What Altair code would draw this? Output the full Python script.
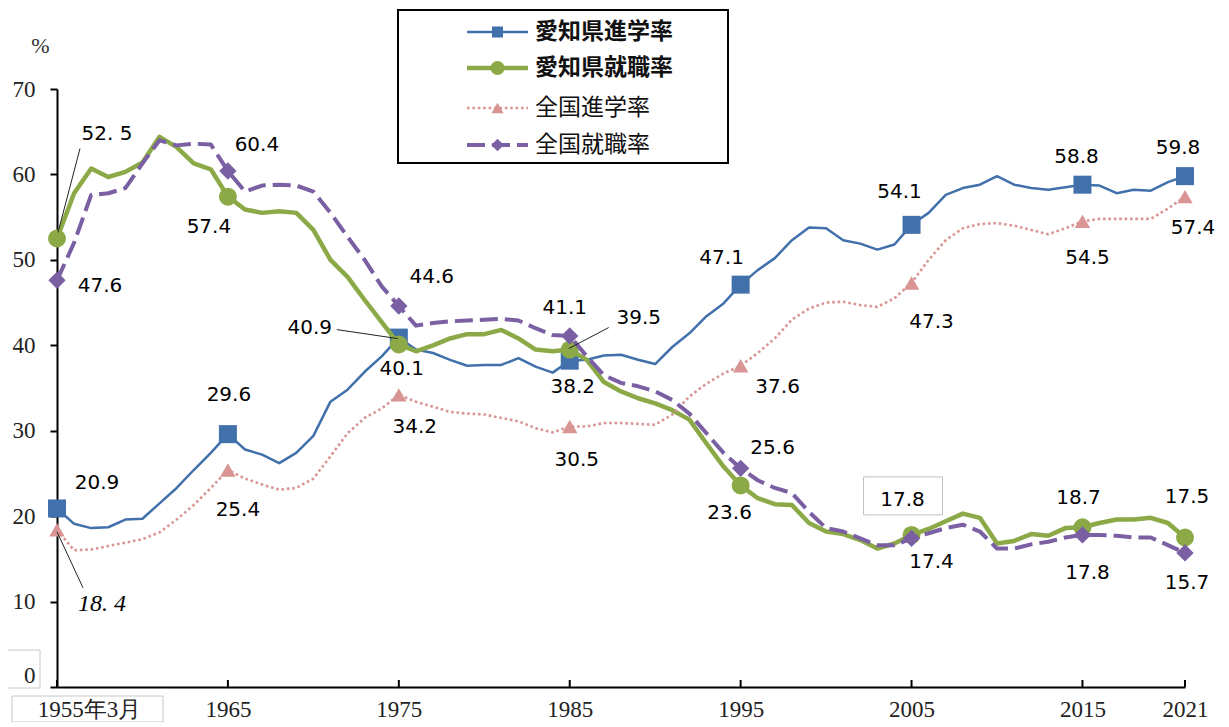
import altair as alt
import pandas as pd

# ---------------- data ----------------
years = list(range(1955, 2022))

aichi_shingaku = [20.9, 19.1, 18.6, 18.7, 19.6, 19.7, 21.5, 23.3, 25.4, 27.4,
                  29.6, 27.8, 27.2, 26.2, 27.4, 29.4, 33.4, 34.8, 36.9, 38.7,
                  40.9, 39.5, 39.1, 38.3, 37.6, 37.7, 37.7, 38.5, 37.5, 36.8,
                  38.2, 38.3, 38.8, 38.9, 38.3, 37.8, 39.8, 41.4, 43.4, 44.9,
                  47.1, 48.8, 50.2, 52.3, 53.8, 53.7, 52.3, 51.9, 51.2, 51.8,
                  54.1, 55.5, 57.6, 58.4, 58.8, 59.8, 58.8, 58.4, 58.2, 58.5,
                  58.8, 58.7, 57.8, 58.2, 58.1, 59.1, 59.8]

aichi_shushoku = [52.5, 57.8, 60.7, 59.7, 60.3, 61.4, 64.4, 63.2, 61.3, 60.6,
                  57.4, 55.9, 55.5, 55.7, 55.5, 53.5, 50.0, 48.0, 45.3, 42.7,
                  40.1, 39.3, 40.0, 40.8, 41.3, 41.3, 41.8, 40.8, 39.5, 39.3,
                  39.5, 38.3, 35.7, 34.6, 33.8, 33.2, 32.4, 31.3, 28.5, 25.8,
                  23.6, 22.1, 21.4, 21.3, 19.2, 18.2, 17.9, 17.2, 16.2, 16.8,
                  17.8, 18.5, 19.4, 20.3, 19.8, 16.8, 17.1, 17.9, 17.7, 18.6,
                  18.7, 19.2, 19.6, 19.6, 19.8, 19.2, 17.5]

zenkoku_shingaku = [18.4, 16.0, 16.1, 16.5, 16.9, 17.3, 18.1, 19.6, 21.3, 23.3,
                    25.4, 24.4, 23.7, 23.1, 23.3, 24.4, 27.0, 29.7, 31.5, 32.6,
                    34.2, 33.4, 32.8, 32.2, 32.0, 31.9, 31.5, 31.1, 30.3, 29.8,
                    30.5, 30.5, 30.9, 30.9, 30.8, 30.7, 31.9, 34.0, 35.5, 36.7,
                    37.6, 39.1, 40.8, 43.0, 44.3, 45.0, 45.1, 44.7, 44.5, 45.5,
                    47.3, 50.0, 52.3, 53.7, 54.2, 54.3, 54.0, 53.5, 53.0, 53.7,
                    54.5, 54.8, 54.8, 54.8, 54.8, 56.0, 57.4]

zenkoku_shushoku = [47.6, 52.0, 57.6, 57.8, 58.4, 61.3, 64.0, 63.4, 63.6, 63.5,
                    60.4, 58.0, 58.7, 58.8, 58.7, 58.0, 55.5, 52.7, 50.0, 46.9,
                    44.6, 42.3, 42.6, 42.8, 42.9, 43.0, 43.1, 42.9, 42.0, 41.2,
                    41.1, 38.7, 36.5, 35.6, 35.2, 34.6, 33.6, 32.0, 29.7, 27.4,
                    25.6, 24.2, 23.3, 22.7, 20.5, 18.6, 18.2, 17.4, 16.6, 16.6,
                    17.4, 18.0, 18.6, 19.0, 18.2, 16.2, 16.2, 16.7, 17.0, 17.5,
                    17.8, 17.8, 17.7, 17.5, 17.5, 16.6, 15.7]

series_names = ["愛知県進学率", "愛知県就職率", "全国進学率", "全国就職率"]
series_values = [aichi_shingaku, aichi_shushoku, zenkoku_shingaku, zenkoku_shushoku]

marker_years = [1955, 1965, 1975, 1985, 1995, 2005, 2015, 2021]
x_tick_years = [1955, 1965, 1975, 1985, 1995, 2005, 2015, 2021]
x_tick_labels = ["1955年3月", "1965", "1975", "1985", "1995", "2005", "2015", "2021"]
y_tick_values = [0, 10, 20, 30, 40, 50, 60, 70]

# ---------------- styles ----------------
styles = [
    dict(color="#4170AB", width=2.5, dash=None, shape="square", size=324, lsize=121, bold=True),
    dict(color="#8BAA47", width=4.5, dash=None, shape="circle", size=324, lsize=196, bold=True),
    dict(color="#D99594", width=2.6, dash=[2.6, 2.8], shape="triangle-up", size=240, lsize=150, bold=False),
    dict(color="#7A5FA3", width=4.0, dash=[18, 7], shape="diamond", size=300, lsize=160, bold=False),
]

# label annotations: (series index, year, dx, dy, special text or None, font kind)
label_specs = [
    (1, 1955, 50, -105, "52. 5", "sans"),
    (3, 1955, 43, 6, None, "sans"),
    (3, 1965, 29, -26, None, "sans"),
    (1, 1965, -19, 30, None, "sans"),
    (0, 1975, -89, -10, None, "sans"),
    (1, 1975, 3, 25, None, "sans"),
    (3, 1975, 33, -29, None, "sans"),
    (0, 1965, 1, -39, None, "sans"),
    (2, 1975, 16, 32, None, "sans"),
    (3, 1985, -5, -28, None, "sans"),
    (1, 1985, 69, -32, None, "sans"),
    (0, 1985, 3, 26, None, "sans"),
    (2, 1985, 7, 34, None, "sans"),
    (0, 1995, -19, -27, None, "sans"),
    (2, 1995, 37, 21, None, "sans"),
    (3, 1995, 32, -20, None, "sans"),
    (1, 1995, -11, 28, None, "sans"),
    (0, 2005, -12, -33, None, "sans"),
    (2, 2005, 20, 39, None, "sans"),
    (0, 2015, -6, -28, None, "sans"),
    (2, 2015, 5, 37, None, "sans"),
    (0, 2021, -7, -28, None, "sans"),
    (2, 2021, 8, 31, None, "sans"),
    (1, 2005, -9, -35, None, "sans"),
    (3, 2005, 20, 24, None, "sans"),
    (1, 2015, -4, -29, None, "sans"),
    (3, 2015, 5, 38, None, "sans"),
    (1, 2021, 2, -41, None, "sans"),
    (3, 2021, 2, 30, None, "sans"),
    (0, 1955, 40, -25, None, "sans"),
    (2, 1965, 10, 40, None, "sans"),
    (2, 1955, 45, 74, "18. 4", "serif-italic"),
]

# leader lines: (series index, year, start offset x, y, end offset x, y)
leader_specs = [
    (1, 1955, 23, -90, 1, -6),
    (0, 1975, -62, -8, -1, 1),
    (1, 1985, 39, -22, -1, -1),
    (2, 1955, 26, 58, 0, 2),
]

# ---------------- tables ----------------
series_dfs = [pd.DataFrame({"year": years, "value": vals}) for vals in series_values]
tick_df = pd.DataFrame({"year": x_tick_years, "value": [0] * len(x_tick_years)})

W, H = 1128, 598
xscale = alt.Scale(domain=[1955, 2021], nice=False, zero=False)
yscale = alt.Scale(domain=[0, 70], nice=False, zero=True)

label_expr = "datum.label"
for yr, lab in reversed(list(zip(x_tick_years, x_tick_labels))):
    label_expr = f"datum.value == {yr} ? '{lab}' : " + label_expr

x_axis = alt.Axis(
    values=x_tick_years, format="d", labelExpr=label_expr, ticks=False, grid=False,
    domainColor="black", domainWidth=2, labelFont="Liberation Serif",
    labelFontSize=23, labelColor="#222", labelPadding=11, labelFlush=False,
    labelOverlap=False, title=None,
    labelOffset={"condition": {"test": "datum.value == 1955", "value": 32}, "value": 0},
)
y_axis = alt.Axis(
    values=y_tick_values, tickSize=7, tickWidth=2, tickColor="black",
    domainColor="black", domainWidth=2, grid=False, labelFont="Liberation Serif",
    labelFontSize=23, labelColor="#222", labelPadding=15,
    labelOffset={"condition": {"test": "datum.value == 0", "value": -12}, "value": 0},
    title="%", titleAngle=0, titleX=-17, titleY=-44, titleFont="Liberation Serif",
    titleFontSize=22, titleFontWeight="normal", titleAlign="center",
    titleBaseline="middle", titleColor="#333",
)


def X():
    return alt.X("year:Q", scale=xscale, axis=x_axis)


def Y():
    return alt.Y("value:Q", scale=yscale, axis=y_axis)


layers = []

# x-axis ticks pointing up into the plot
layers.append(
    alt.Chart(tick_df).mark_rule(color="black", strokeWidth=2, y2Offset=-7)
    .encode(x=X(), y=Y(), y2="value")
)
# faint boxes around axis labels "0" and "1955年3月"
box_df = tick_df[tick_df["year"] == 1955]
layers.append(
    alt.Chart(box_df).mark_rect(fillOpacity=0, stroke="#c8c8c8", strokeWidth=1,
                                xOffset=-51, x2Offset=-17, yOffset=-37, y2Offset=1)
    .encode(x=X(), y=Y(), x2="year", y2="value")
)
layers.append(
    alt.Chart(box_df).mark_rect(fillOpacity=0, stroke="#c8c8c8", strokeWidth=1,
                                xOffset=-45, x2Offset=106, yOffset=9, y2Offset=35)
    .encode(x=X(), y=Y(), x2="year", y2="value")
)

# lines and markers
for sdf, st in zip(series_dfs, styles):
    lkw = dict(color=st["color"], strokeWidth=st["width"], strokeJoin="round")
    if st["dash"]:
        lkw["strokeDash"] = st["dash"]
    layers.append(alt.Chart(sdf).mark_line(**lkw).encode(x=X(), y=Y()))
    mdf = sdf[sdf["year"].isin(marker_years)]
    layers.append(
        alt.Chart(mdf).mark_point(filled=True, shape=st["shape"], size=st["size"],
                                  color=st["color"], opacity=1)
        .encode(x=X(), y=Y())
    )

# boxed label (愛知県就職率 2005)
g2005 = series_dfs[1][series_dfs[1]["year"] == 2005]
layers.append(
    alt.Chart(g2005).mark_rect(fillOpacity=0, stroke="#c0c0c0", strokeWidth=1,
                               xOffset=-48, x2Offset=31, yOffset=-58, y2Offset=-20)
    .encode(x=X(), y=Y(), x2="year", y2="value")
)

# leader lines
for si, yr, sx, sy, ex, ey in leader_specs:
    pdf = series_dfs[si][series_dfs[si]["year"] == yr]
    layers.append(
        alt.Chart(pdf).mark_rule(color="#222", strokeWidth=1, xOffset=sx, yOffset=sy,
                                 x2Offset=ex, y2Offset=ey)
        .encode(x=X(), y=Y(), x2="year", y2="value")
    )

# data labels
for si, yr, dx, dy, special, kind in label_specs:
    pdf = series_dfs[si][series_dfs[si]["year"] == yr]
    if kind == "sans":
        tkw = dict(font="DejaVu Sans", fontSize=20)
    else:
        tkw = dict(font="Liberation Serif", fontSize=24, fontStyle="italic")
    text = alt.value(special) if special else alt.Text("value:Q", format=".1f")
    layers.append(
        alt.Chart(pdf).mark_text(dx=dx, dy=dy, color="black", align="center",
                                 baseline="middle", **tkw)
        .encode(x=X(), y=Y(), text=text)
    )

# legend (manual, inside top box)
one = pd.DataFrame({"k": [0]})
layers.append(
    alt.Chart(one).mark_rect(fill="white", stroke="black", strokeWidth=2)
    .encode(x=alt.value(341), x2=alt.value(671), y=alt.value(-79), y2=alt.value(74))
)
legend_rows = [-57, -21, 19, 56]
for name, st, ry in zip(series_names, styles, legend_rows):
    ldf = pd.DataFrame({"series": [name]})
    rkw = dict(color=st["color"], strokeWidth=min(st["width"], 4.5))
    if st["dash"]:
        rkw["strokeDash"] = st["dash"]
    layers.append(
        alt.Chart(ldf).mark_rule(**rkw)
        .encode(x=alt.value(410), x2=alt.value(471), y=alt.value(ry))
    )
    layers.append(
        alt.Chart(ldf).mark_point(filled=True, shape=st["shape"], size=st["lsize"],
                                  color=st["color"], opacity=1)
        .encode(x=alt.value(440.5), y=alt.value(ry))
    )
    layers.append(
        alt.Chart(ldf).mark_text(align="left", baseline="middle", font="Noto Sans CJK JP",
                                 fontSize=23, color="#111",
                                 fontWeight="bold" if st["bold"] else "normal")
        .encode(x=alt.value(478), y=alt.value(ry), text="series:N")
    )

chart = (
    alt.layer(*layers)
    .properties(width=W, height=H, autosize="none",
                padding={"left": 49, "top": 81, "right": 34, "bottom": 35})
    .configure_view(stroke=None)
)

chart.save("out.html", embed_options={"renderer": "svg", "actions": False})
